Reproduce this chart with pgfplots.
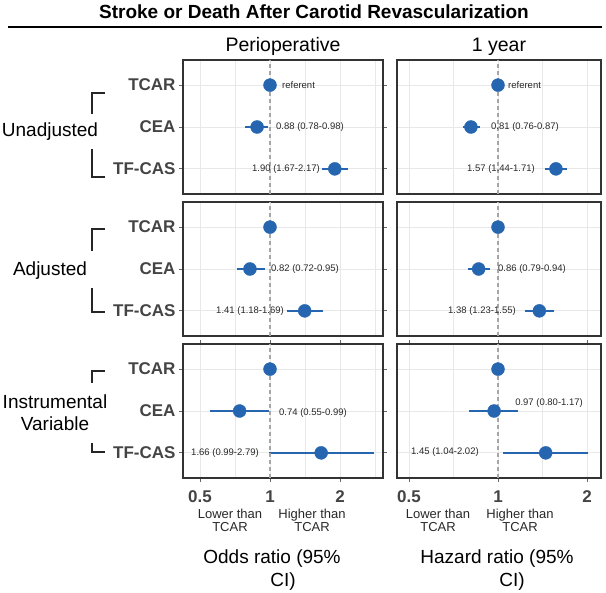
\documentclass[border=0pt]{standalone}
\usepackage{fontspec}
\setmainfont{Liberation Sans}
\usepackage{pgfplots}
\pgfplotsset{compat=1.18}

\definecolor{ptblue}{RGB}{38,102,176}
\definecolor{txtgrey}{RGB}{68,68,68}
\definecolor{gridgrey}{RGB}{232,232,232}
\definecolor{labgrey}{RGB}{40,40,40}
\newcommand\fs[1]{\fontsize{#1}{#1}\selectfont}

\pgfplotsset{
  fpanel/.style={
    scale only axis, anchor=north west, height=134pt,
    ymin=0.4, ymax=3.6,
    ytick={1,2,3}, yticklabels={},
    xtick={0.5,1,2}, xticklabels={},
    minor xtick={0.7071,1.4142,2.8284},
    grid=both,
    major grid style={gridgrey, line width=0.9pt},
    minor grid style={gridgrey, line width=0.5pt},
    axis line style={draw=black!80, line width=1.1pt},
    tick align=outside, major tick length=4pt, minor tick length=0pt,
    clip=false,
  },
  lcol/.style={xmin=0.4225, xmax=3.062, width=200pt,
    yticklabels={TF-CAS,CEA,TCAR},
    yticklabel style={font=\fs{17}\bfseries, text=txtgrey},
    ytick style={draw=black!60, line width=0.8pt}},
  rcol/.style={xmin=0.4554, xmax=2.230, width=204pt,
    ytick style={draw=none}},
  uprow/.style={xtick style={draw=none}},
  lowrow/.style={xticklabels={0.5,1,2},
    xticklabel style={font=\fs{17}\bfseries, text=txtgrey, yshift=-5pt},
    xtick style={draw=black!60, line width=0.8pt}},
  cibar/.style={ptblue, line width=1.8pt, forget plot},
  estpt/.style={only marks, mark=*, mark size=6.5pt,
    mark options={fill=ptblue, draw=ptblue}, forget plot},
  refln/.style={draw=gray!70, dash pattern=on 4pt off 3pt, line width=1.1pt, forget plot},
}
\tikzset{cilab/.style={font=\fs{9.5}, text=labgrey, inner sep=0pt}}

\begin{document}
\begin{tikzpicture}
\useasboundingbox (0,0) rectangle (606pt,-593pt);

% title and rule
\node[anchor=base, font=\fs{19}\bfseries] at (314pt,-19pt) {Stroke or Death After Carotid Revascularization};
\draw[line width=2pt] (8pt,-27pt) -- (602pt,-27pt);
\node[anchor=base, font=\fs{19.5}] at (283pt,-52pt) {Perioperative};
\node[anchor=base, font=\fs{19.5}] at (499pt,-52pt) {1 year};

% ---------- Unadjusted ----------
\begin{axis}[xmode=log, fpanel, lcol, uprow, at={(183pt,-60pt)}]
\addplot[cibar] coordinates {(0.78,2) (0.98,2)};
\addplot[cibar] coordinates {(1.67,1) (2.17,1)};
\addplot[estpt] coordinates {(1,3) (0.88,2) (1.90,1)};
\addplot[refln] coordinates {(1,0.4) (1,3.6)};
\node[cilab, anchor=west] at (axis cs:1.126,3) {referent};
\node[cilab, anchor=west] at (axis cs:1.061,2) {0.88 (0.78-0.98)};
\node[cilab, anchor=east] at (axis cs:1.641,1) {1.90 (1.67-2.17)};
\end{axis}
\begin{axis}[xmode=log, fpanel, rcol, uprow, at={(397pt,-60pt)}]
\addplot[cibar] coordinates {(0.76,2) (0.87,2)};
\addplot[cibar] coordinates {(1.44,1) (1.71,1)};
\addplot[estpt] coordinates {(1,3) (0.81,2) (1.57,1)};
\addplot[refln] coordinates {(1,0.4) (1,3.6)};
\node[cilab, anchor=west] at (axis cs:1.081,3) {referent};
\node[cilab, anchor=west] at (axis cs:0.947,2) {0.81 (0.76-0.87)};
\node[cilab, anchor=east] at (axis cs:1.334,1) {1.57 (1.44-1.71)};
\end{axis}

% ---------- Adjusted ----------
\begin{axis}[xmode=log, fpanel, lcol, uprow, at={(183pt,-202pt)}]
\addplot[cibar] coordinates {(0.72,2) (0.95,2)};
\addplot[cibar] coordinates {(1.18,1) (1.69,1)};
\addplot[estpt] coordinates {(1,3) (0.82,2) (1.41,1)};
\addplot[refln] coordinates {(1,0.4) (1,3.6)};
\node[cilab, anchor=west] at (axis cs:1.01,2) {0.82 (0.72-0.95)};
\node[cilab, anchor=east] at (axis cs:1.149,1) {1.41 (1.18-1.69)};
\end{axis}
\begin{axis}[xmode=log, fpanel, rcol, uprow, at={(397pt,-202pt)}]
\addplot[cibar] coordinates {(0.79,2) (0.94,2)};
\addplot[cibar] coordinates {(1.23,1) (1.55,1)};
\addplot[estpt] coordinates {(1,3) (0.86,2) (1.38,1)};
\addplot[refln] coordinates {(1,0.4) (1,3.6)};
\node[cilab, anchor=west] at (axis cs:1.0,2) {0.86 (0.79-0.94)};
\node[cilab, anchor=east] at (axis cs:1.15,1) {1.38 (1.23-1.55)};
\end{axis}

% ---------- Instrumental variable ----------
\begin{axis}[xmode=log, fpanel, lcol, lowrow, at={(183pt,-344pt)}]
\addplot[cibar] coordinates {(0.55,2) (0.99,2)};
\addplot[cibar] coordinates {(0.99,1) (2.79,1)};
\addplot[estpt] coordinates {(1,3) (0.74,2) (1.66,1)};
\addplot[refln] coordinates {(1,0.4) (1,3.6)};
\node[cilab, anchor=west] at (axis cs:1.093,1.95) {0.74 (0.55-0.99)};
\node[cilab, anchor=east] at (axis cs:0.897,1) {1.66 (0.99-2.79)};
\end{axis}
\begin{axis}[xmode=log, fpanel, rcol, lowrow, at={(397pt,-344pt)}]
\addplot[cibar] coordinates {(0.80,2) (1.17,2)};
\addplot[cibar] coordinates {(1.04,1) (2.02,1)};
\addplot[estpt] coordinates {(1,3) (0.97,2) (1.45,1)};
\addplot[refln] coordinates {(1,0.4) (1,3.6)};
\node[cilab, anchor=west] at (axis cs:1.142,2.19) {0.97 (0.80-1.17)};
\node[cilab, anchor=east] at (axis cs:0.862,1.02) {1.45 (1.04-2.02)};
\end{axis}

% row group labels and brackets
\node[font=\fs{19}] at (50pt,-132pt) {Unadjusted};
\node[font=\fs{19}] at (50pt,-271pt) {Adjusted};
\node[font=\fs{19}, align=center, inner sep=0pt] at (55pt,-413pt) {Instrumental\\[3pt]Variable};
\begin{scope}[line width=2pt, black!85]
\draw (105pt,-93pt) -- (92pt,-93pt) -- (92pt,-114pt);
\draw (92pt,-149pt) -- (92pt,-177pt) -- (105pt,-177pt);
\draw (105pt,-229pt) -- (92pt,-229pt) -- (92pt,-251pt);
\draw (92pt,-288pt) -- (92pt,-312pt) -- (105pt,-312pt);
\draw (105pt,-371pt) -- (92pt,-371pt) -- (92pt,-383pt);
\draw (92pt,-443pt) -- (92pt,-452pt) -- (105pt,-452pt);
\end{scope}

% bottom annotations
\node[font=\fs{13}, align=center, text=labgrey] at (230pt,-520pt) {Lower than\\[0pt]TCAR};
\node[font=\fs{13}, align=center, text=labgrey] at (312pt,-520pt) {Higher than\\[0pt]TCAR};
\node[font=\fs{13}, align=center, text=labgrey] at (438pt,-520pt) {Lower than\\[0pt]TCAR};
\node[font=\fs{13}, align=center, text=labgrey] at (520pt,-520pt) {Higher than\\[0pt]TCAR};
\node[anchor=base, font=\fs{19}] at (272pt,-564pt) {Odds ratio (95\%};
\node[anchor=base, font=\fs{19}] at (283pt,-587pt) {CI)};
\node[anchor=base, font=\fs{19}] at (497pt,-564pt) {Hazard ratio (95\%};
\node[anchor=base, font=\fs{19}] at (512pt,-587pt) {CI)};
\end{tikzpicture}
\end{document}
